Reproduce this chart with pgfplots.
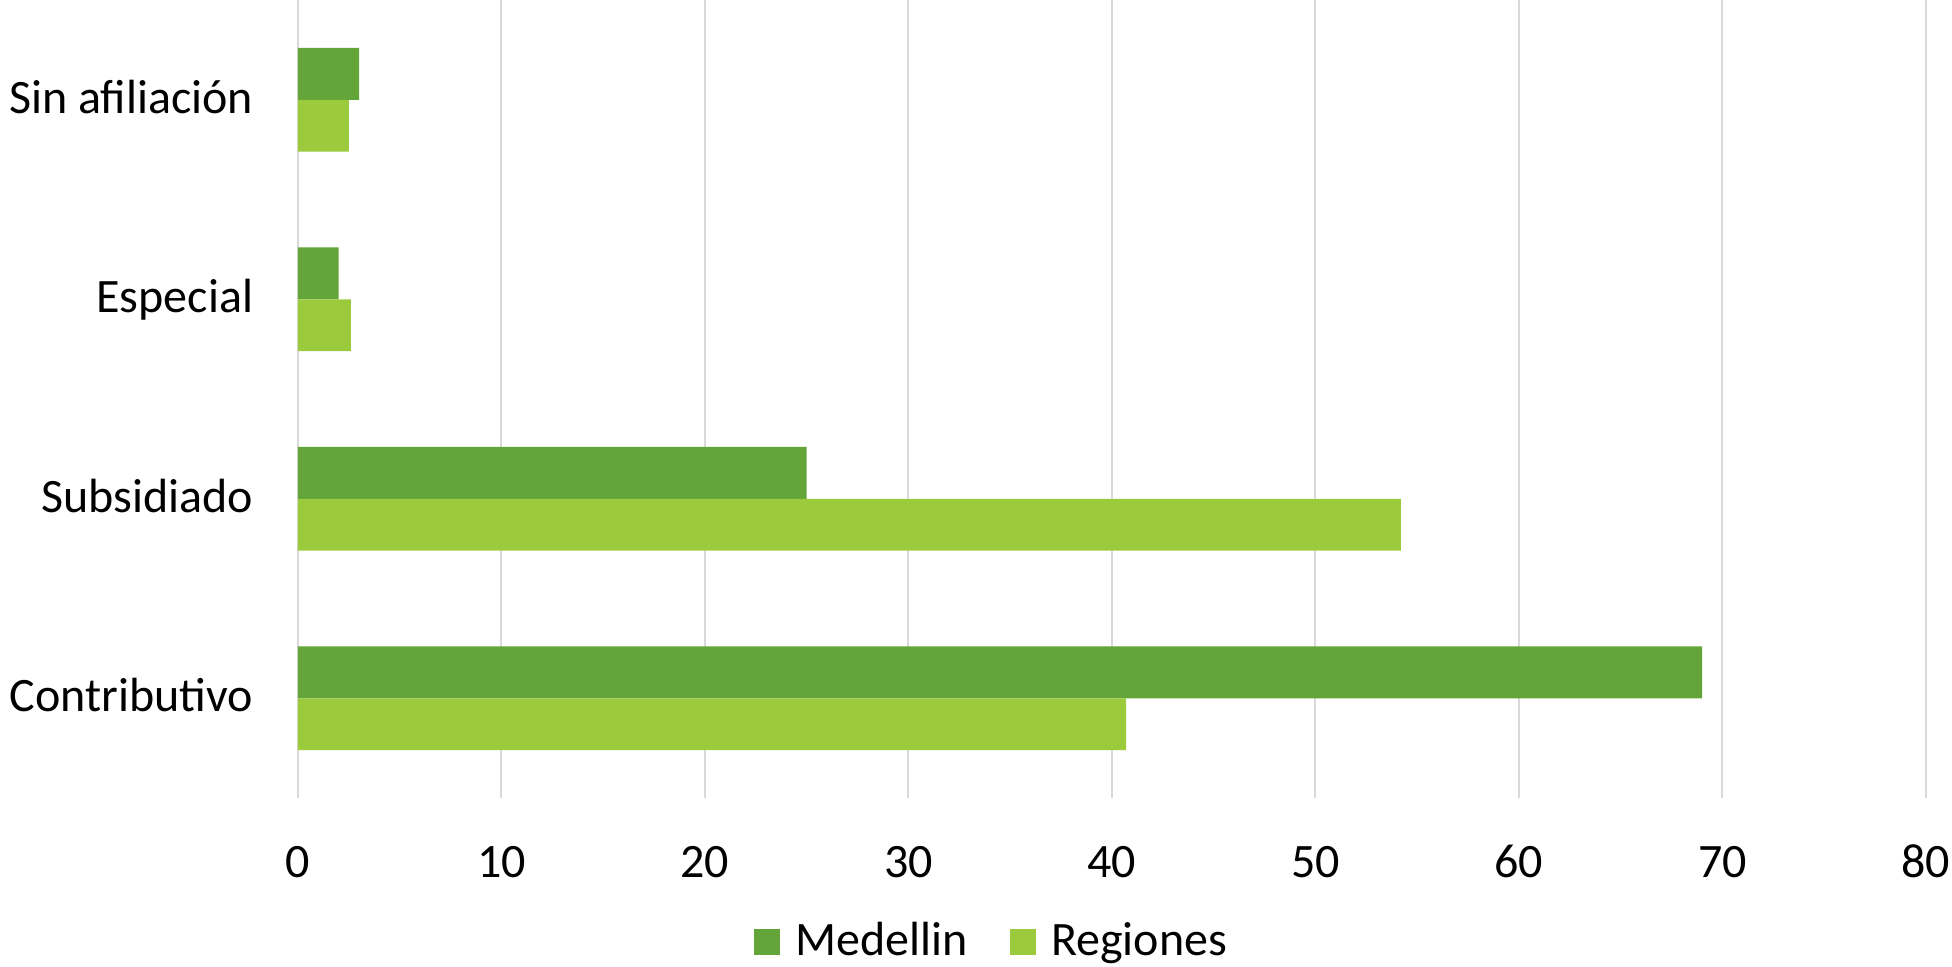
\documentclass[border=0pt]{standalone}
\usepackage{pgfplots}
\pgfplotsset{compat=1.18}
\usepackage{fontspec}
\setmainfont{Carlito}
\definecolor{medellin}{HTML}{63A538}
\definecolor{regiones}{HTML}{9BCB3C}
\definecolor{gridgray}{HTML}{D9D9D9}
\begin{document}
\begin{tikzpicture}
\useasboundingbox (0,0) rectangle (488pt,241.5pt);
\begin{axis}[
  at={(74.5pt,42pt)}, anchor=south west,
  scale only axis, width=407pt, height=199.5pt,
  xbar, bar width=0.26,
  xmin=0, xmax=80, xtick={0,10,...,80},
  ymin=-0.5, ymax=3.5, ytick={0,1,2,3},
  yticklabels={Contributivo,Subsidiado,Especial,Sin afiliación},
  axis line style={draw=none}, major tick length=0pt,
  xmajorgrids, grid style={gridgray, line width=0.5pt},
  font=\fontsize{12}{14}\selectfont,
  /pgf/number format/assume math mode=true,
  xticklabel style={anchor=base, inner sep=0pt, yshift=-19.75pt},
  yticklabel style={anchor=base east, inner sep=0pt, xshift=-11pt, yshift=-3.35pt},
  legend style={at={(0.428,-0.1805)}, anchor=center, draw=none, fill=none,
    legend columns=-1, font=\fontsize{12}{14}\selectfont,
    /tikz/every odd column/.append style={column sep=1.8pt},
    /tikz/every even column/.append style={column sep=8.5pt}},
  legend image code/.code={\fill[#1] (0pt,-3.25pt) rectangle (6.5pt,3.25pt);},
]
% Medellin sits above Regiones within each category
\addplot[fill=medellin, draw=none, bar shift=0.13] coordinates {(69.0,0) (25.0,1) (2.0,2) (3.0,3)};
\addplot[fill=regiones, draw=none, bar shift=-0.13] coordinates {(40.7,0) (54.2,1) (2.6,2) (2.5,3)};
\legend{Medellin, Regiones}
\end{axis}
\end{tikzpicture}
\end{document}
